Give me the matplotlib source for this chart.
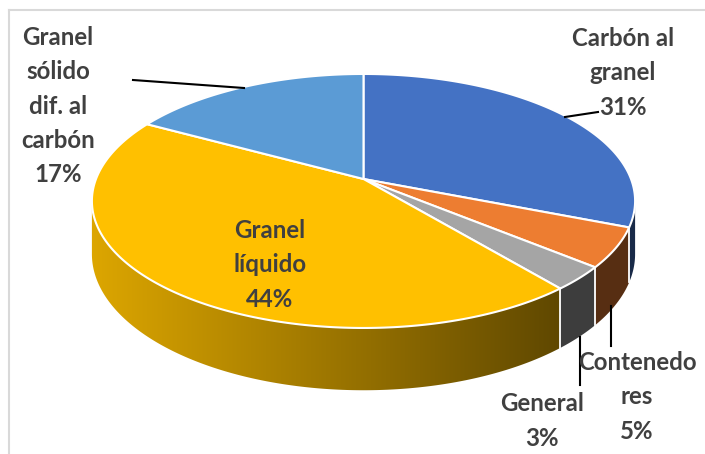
import numpy as np
import matplotlib
matplotlib.use("Agg")
import matplotlib.pyplot as plt
from matplotlib.patches import Polygon
from matplotlib.colors import to_rgb

# data
labels = ["Carbón al\ngranel", "Contenedo\nres", "General", "Granel\nlíquido", "Granel\nsólido\ndif. al\ncarbón"]
values = [31, 5, 3, 44, 17]
colors = ["#4472C4", "#ED7D31", "#A5A5A5", "#FFC000", "#5B9BD5"]

# label placement (pixel space) and leader lines
label_pos = [(623, 73), (637, 397), (542, 421), (270, 265), (58, 106)]
leaders = [((565, 117), (598, 112)), ((611, 306), (611, 346)), ((580, 337), (580, 385)),
           None, ((133, 80), (244, 88))]

# 3d pie geometry (pixels)
CX, AY = 363.5, 179.0   # projected centre of the pie
SX, SY = 267.5, 123.2   # horizontal / vertical scale
K = 0.173               # perspective strength
DEPTH = 51.5            # wall height

W, H = 705, 454
fig = plt.figure(figsize=(W / 100, H / 100), dpi=100)
ax = fig.add_axes([0, 0, 1, 1])
ax.set_xlim(0, W)
ax.set_ylim(H, 0)
ax.axis("off")


def proj(theta, drop=0.0):
    t = np.radians(theta)
    u, v = np.cos(t), np.sin(t)
    w = 1 + K * v
    return CX + SX * u / w, AY - SY * v / w + drop / w


def shade(x):
    t = (x - (CX - SX)) / (2 * SX)
    return np.maximum(0.37, 0.86 - 0.56 * t)


total = float(sum(values))
bounds = [90 - 360 * c / total for c in np.concatenate([[0], np.cumsum(values)])]

# visible front arc of the wall
edge = np.degrees(np.arcsin(K))
front = (-180 + edge, -edge)

# walls
for i, col in enumerate(colors):
    a0, a1 = bounds[i + 1], bounds[i]
    lo, hi = max(a0, front[0]), min(a1, front[1])
    if lo >= hi:
        continue
    th = np.linspace(hi, lo, 200)
    tx, ty = proj(th)
    bx, by = proj(th, DEPTH)
    pts = np.column_stack([np.concatenate([tx, bx[::-1]]), np.concatenate([ty, by[::-1]])])
    poly = Polygon(pts, closed=True, facecolor="none", edgecolor="none")
    ax.add_patch(poly)
    x0, x1 = pts[:, 0].min() - 2, pts[:, 0].max() + 2
    y0, y1 = pts[:, 1].min() - 2, pts[:, 1].max() + 2
    xs = np.linspace(x0, x1, 300)
    grad = np.array(to_rgb(col))[None, :] * shade(xs)[:, None]
    img = np.repeat(grad[None, :, :], 2, axis=0)
    im = ax.imshow(img, extent=(x0, x1, y1, y0), aspect="auto", interpolation="bilinear", zorder=1)
    im.set_clip_path(poly)

# white separators on the wall
for b in bounds[1:-1]:
    if front[0] < b < front[1]:
        x0, y0 = proj(b)
        x1, y1 = proj(b, DEPTH)
        ax.plot([x0, x1], [y0, y1], color="white", lw=1.3, zorder=2)

# top face
for i, col in enumerate(colors):
    th = np.linspace(bounds[i], bounds[i + 1], 200)
    px, py = proj(th)
    pts = np.column_stack([np.concatenate([[CX], px]), np.concatenate([[AY], py])])
    ax.add_patch(Polygon(pts, closed=True, facecolor=col, edgecolor="white", lw=1.5,
                         joinstyle="round", zorder=3))

# labels
for lab, v, (x, y), ld in zip(labels, values, label_pos, leaders):
    ax.text(x, y, f"{lab}\n{v}%", ha="center", va="center", fontsize=17.3,
            fontfamily=["Lato", "DejaVu Sans"], fontweight="bold", color="#404040",
            linespacing=1.6, zorder=5)
    if ld is not None:
        (xa, ya), (xb, yb) = ld
        ax.plot([xa, xb], [ya, yb], color="black", lw=1.5, zorder=4)

# chart frame (cropped at right / bottom)
ax.plot([9, W], [10, 10], color="#D9D9D9", lw=1.5)
ax.plot([9, 9], [10, H], color="#D9D9D9", lw=1.5)

fig.savefig("out.png", dpi=100)
